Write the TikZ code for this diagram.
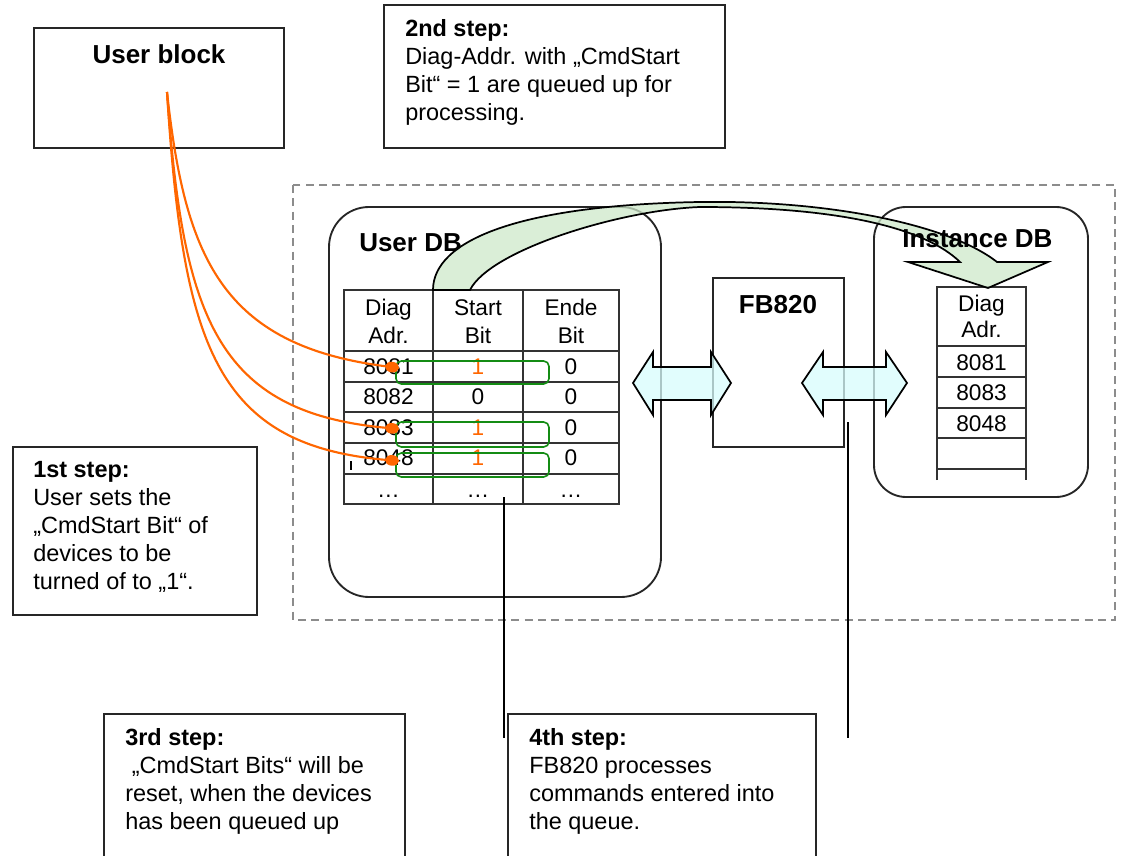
\documentclass[tikz,border=0pt]{standalone}
\usepackage{fontspec}
\setmainfont{Liberation Sans}
\usetikzlibrary{arrows.meta}
\definecolor{orangeline}{RGB}{255,102,0}
\definecolor{greenbox}{RGB}{20,140,20}
\definecolor{arrowgreen}{RGB}{205,232,202}
\definecolor{arrowcyan}{RGB}{215,252,252}
\definecolor{dashgray}{RGB}{140,140,140}
\newcommand\txtfont{\fontsize{17.6}{21}\selectfont}
\newcommand\tblfont{\fontsize{17}{21}\selectfont}
\newcommand\ttlfont{\fontsize{19.5}{23}\selectfont\bfseries}
\tikzset{
  boxline/.style={line width=1.4pt, black!85},
  tblline/.style={line width=1pt, black!80},
  txt/.style={inner sep=0pt, anchor=base west, font=\txtfont},
  cell/.style={inner sep=0pt, anchor=base, font=\tblfont},
  ttl/.style={inner sep=0pt, font=\ttlfont},
  orangecurve/.style={orangeline, line width=1.6pt, -{Ellipse[length=10.5pt,width=8pt]}},
  selbox/.style={greenbox, line width=1.2pt, rounded corners=4pt},
  dblarrow/.style={draw=black, line width=1.3pt, fill=arrowcyan, fill opacity=0.75, line join=miter},
  pointer/.style={line width=1pt, black},
}
\begin{document}
\begin{tikzpicture}[x=0.75pt, y={(0pt,-0.75pt)}]
\useasboundingbox (0,0) rectangle (1122,856);

% dashed frame
\draw[dashgray, line width=1.1pt, dash pattern=on 6pt off 4pt] (293,185) rectangle (1115,620);

% User block
\draw[boxline] (34,28) rectangle (284,148);
\node[ttl, anchor=base] (ubtitle) at (159,64) {User block};

% 2nd step box
\draw[boxline] (384,5) rectangle (725,148);
\node[txt] (s2a) at (405,37) {\bfseries 2nd step:};
\node[txt] (s2b) at (405,65) {Diag-Addr. with „CmdStart};
\node[txt] (s2c) at (405,93) {Bit“ = 1 are queued up for};
\node[txt] (s2d) at (405,121) {processing.};

% User DB
\draw[boxline, rounded corners=30pt] (329,207) rectangle (661,597);
\node[ttl, anchor=base west] (udb) at (359,251) {User DB};

% Instance DB
\draw[boxline, rounded corners=24pt] (874,207) rectangle (1088,497);

% FB820
\draw[boxline] (713,278) rectangle (844,447);
\node[ttl, anchor=base] (fb) at (778,313) {FB820};

% user table
\draw[tblline] (344,290) rectangle (619,504);
\foreach \yy in {351,382,412,443,474} \draw[tblline] (344,\yy) -- (619,\yy);
\foreach \xx in {433,523} \draw[tblline] (\xx,290) -- (\xx,504);
\node[cell] at (388.5,315) {Diag};
\node[cell] at (388.5,343) {Adr.};
\node[cell] at (478,315) {Start};
\node[cell] at (478,343) {Bit};
\node[cell] at (571,315) {Ende};
\node[cell] at (571,343) {Bit};
\node[cell] at (388.5,374) {8081};
\node[cell] at (388.5,404) {8082};
\node[cell] at (388.5,435) {8083};
\node[cell] at (388.5,465) {8048};
\node[cell] at (388.5,497) {…};
\node[cell, text=orangeline] at (478,374) {1};
\node[cell] at (478,404) {0};
\node[cell, text=orangeline] at (478,435) {1};
\node[cell, text=orangeline] at (478,465) {1};
\node[cell] at (478,497) {…};
\foreach \yy in {374,404,435,465} \node[cell] at (571,\yy) {0};
\node[cell] at (571,497) {…};
\draw[line width=0.8pt] (351,461) -- (351,470);

% instance table
\draw[tblline] (937,480) -- (937,287) -- (1026,287) -- (1026,480);
\foreach \yy in {346,377,408,438,469} \draw[tblline] (937,\yy) -- (1026,\yy);
\node[cell] at (981.5,311) {Diag};
\node[cell] at (981.5,337) {Adr.};
\node[cell] at (981.5,370) {8081};
\node[cell] at (981.5,400) {8083};
\node[cell] at (981.5,431) {8048};

% pointer lines
\coordinate (p3top) at (504,497);
\coordinate (p3bot) at (504,738);
\coordinate (p4top) at (848,422);
\coordinate (p4bot) at (848,738);
\draw[pointer] (p3top) -- (p3bot);
\draw[pointer] (p4top) -- (p4bot);

% big curved arrow
\fill[arrowgreen, fill opacity=0.75]
  (433,290) .. controls (433,240) and (520,205) .. (700,202)
            .. controls (830,200) and (950,225) .. (997,262)
  -- (1048,262) -- (988,288) -- (908,262) -- (960,262)
  .. controls (925,228) and (840,207) .. (700,207)
  .. controls (620,210) and (490,250) .. (470,290) -- cycle;
\draw[line width=1.3pt, line join=miter]
  (433,290) .. controls (433,240) and (520,205) .. (700,202)
            .. controls (830,200) and (950,225) .. (997,262)
  -- (1048,262) -- (988,288) -- (908,262) -- (960,262)
  .. controls (925,228) and (840,207) .. (700,207)
  .. controls (620,210) and (490,250) .. (470,290) -- cycle;

\node[ttl, anchor=base west] (idb) at (902,247) {Instance DB};

% double arrows
\draw[dblarrow] (633,383) -- (653,352) -- (653,367) -- (711,367) -- (711,352) -- (731,383)
  -- (711,415) -- (711,400) -- (653,400) -- (653,415) -- cycle;
\draw[dblarrow] (802,383) -- (823,352) -- (823,367) -- (886,367) -- (886,352) -- (907,383)
  -- (886,415) -- (886,400) -- (823,400) -- (823,415) -- cycle;

% selection boxes
\draw[selbox] (396,361) rectangle (549,384);
\draw[selbox] (396,422) rectangle (549,447);
\draw[selbox] (396,453) rectangle (549,477);

% orange connectors
\coordinate (src) at (167,92);
\coordinate (r1) at (399,368);
\coordinate (r3) at (399,429);
\coordinate (r4) at (399,461);
\draw[orangecurve] (src) .. controls (185,255) and (220,345) .. (r1);
\draw[orangecurve] (src) .. controls (183,315) and (215,412) .. (r3);
\draw[orangecurve] (src) .. controls (183,345) and (215,445) .. (r4);

% 1st step box
\draw[boxline] (13,447) rectangle (257,615);
\node[txt] (s1a) at (33,477) {\bfseries 1st step:};
\node[txt] (s1b) at (33,505) {User sets the};
\node[txt] (s1c) at (33,533) {„CmdStart Bit“ of};
\node[txt] (s1d) at (33,561) {devices to be};
\node[txt] (s1e) at (33,589) {turned of to „1“.};

% 3rd step box
\draw[boxline] (104,857) -- (104,714) -- (405,714) -- (405,857);
\node[txt] (s3a) at (125,745) {\bfseries 3rd step:};
\node[txt] (s3b) at (125,773) {\hspace{0.28em}„CmdStart Bits“ will be};
\node[txt] (s3c) at (125,801) {reset, when the devices};
\node[txt] (s3d) at (125,829) {has been queued up};

% 4th step box
\draw[boxline] (508,857) -- (508,714) -- (816,714) -- (816,857);
\node[txt] (s4a) at (529,745) {\bfseries 4th step:};
\node[txt] (s4b) at (529,773) {FB820 processes};
\node[txt] (s4c) at (529,801) {commands entered into};
\node[txt] (s4d) at (529,829) {the queue.};
\end{tikzpicture}
\end{document}
